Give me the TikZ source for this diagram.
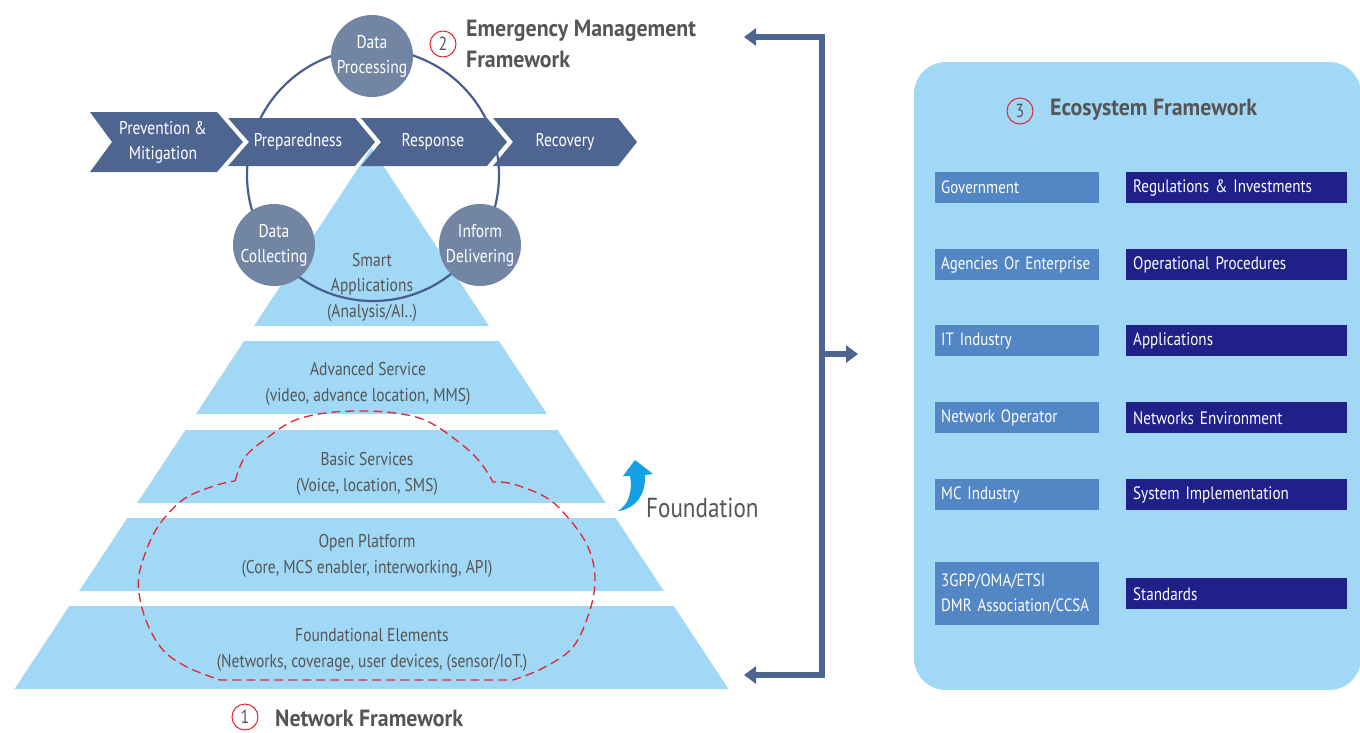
\documentclass[tikz,border=0pt]{standalone}
\usepackage{fontspec}
\setmainfont{PT Sans}[FakeStretch=0.84, BoldFeatures={FakeStretch=0.93}]
\usetikzlibrary{arrows.meta}
\definecolor{pyr}{HTML}{A0D8F5}
\definecolor{chev}{HTML}{4F6591}
\definecolor{circ}{HTML}{7286A4}
\definecolor{ringc}{HTML}{4A5D8E}
\definecolor{txt}{HTML}{555555}
\definecolor{lbx}{HTML}{5286C5}
\definecolor{rbx}{HTML}{1F2088}
\definecolor{redc}{HTML}{E5232E}
\definecolor{found}{HTML}{13A0E4}
\tikzset{
  pyrtext/.style={text=txt, font=\fontsize{18.5}{25.5}\selectfont, align=center, inner sep=0pt},
  chevtext/.style={text=white, font=\fontsize{18.5}{25}\selectfont, align=center, inner sep=0pt},
  chevshape/.style={fill=chev},
  bubble/.style={circle, fill=circ, minimum size=82pt, inner sep=0pt, text=white, align=center, font=\fontsize{18.5}{25}\selectfont},
  num/.style={circle, draw=redc, line width=1pt, minimum size=26pt, inner sep=0pt, text=txt, font=\fontsize{19}{19}\selectfont},
  head/.style={text=txt, font=\bfseries\fontsize{23.5}{31}\selectfont, align=left, anchor=west, inner sep=0pt},
  lbox/.style={fill=lbx, text=white, anchor=north west, minimum height=31pt, text width=152pt, inner xsep=6pt, inner ysep=0pt, align=left, font=\fontsize{17.8}{25}\selectfont, execute at begin node={\hyphenpenalty=10000\relax}},
  rbox/.style={fill=rbx, text=white, anchor=north west, minimum height=31pt, text width=207pt, inner xsep=7pt, inner ysep=0pt, align=left, font=\fontsize{18}{25}\selectfont, execute at begin node={\hyphenpenalty=10000\relax}},
  brk/.style={draw=chev, line width=5.5pt},
  cloudline/.style={draw=redc, line width=1.3pt, dash pattern=on 9pt off 5pt},
}
\begin{document}
\begin{tikzpicture}[x=1pt,y=-1pt]
\useasboundingbox (0,0) rectangle (1360,732);
% pyramid layers
\foreach \a/\b in {148/326,341/414,430/503,518/591,606/689}{
  \fill[pyr] ({371.5-(\a-148)*0.6599},\a) -- ({371.5+(\a-148)*0.6599},\a)
    -- ({371.5+(\b-148)*0.6599},\b) -- ({371.5-(\b-148)*0.6599},\b) -- cycle;
}
% cloud
\draw[cloudline] plot[smooth, tension=0.6] coordinates {(235,481) (245,457) (267,438) (293,421) (325,413) (360,411) (395,413) (427,421) (460,443) (480,462) (493,482)}
 -- plot[smooth, tension=0.6] coordinates {(493,482) (513,484) (547,498) (570,520) (588,547) (595,577) (590,610) (573,647) (543,668) (513,680)}
 -- (220,680)
 -- plot[smooth, tension=0.6] coordinates {(220,680) (187,667) (163,650) (147,623) (139,593) (140,570) (152,537) (167,515) (187,497) (217,485) (235,481)} -- cycle;
% ring
\draw[ringc, line width=2.2pt] (373,175) circle[radius=126];
% chevrons
\fill[chevshape] (90,112) -- (217,112) -- (243,142) -- (217,172) -- (90,172) -- (112,142) -- cycle;
\fill[chevshape] (228,118) -- (355,118) -- (375,142) -- (355,166) -- (228,166) -- (249,142) -- cycle;
\fill[chevshape] (361,118) -- (487,118) -- (507,142) -- (487,166) -- (361,166) -- (381,142) -- cycle;
\fill[chevshape] (493,118) -- (618,118) -- (637,142) -- (618,166) -- (493,166) -- (513,142) -- cycle;
\node[chevtext] (prev) at (163,142) {Prevention \&\\Mitigation};
\node[chevtext] (prep) at (298,142) {Preparedness};
\node[chevtext] (resp) at (433,142) {Response};
\node[chevtext] (reco) at (565,142) {Recovery};
% bubbles
\node[bubble] (dp) at (372,56) {Data\\Processing};
\node[bubble] (dc) at (274,245) {Data\\Collecting};
\node[bubble] (id) at (480,245) {Inform\\Delivering};
% pyramid texts
\node[pyrtext] (smart) at (372,287) {Smart\\Applications\\(Analysis/AI..)};
\node[pyrtext] (adv) at (368,384) {Advanced Service\\(video, advance location, MMS)};
\node[pyrtext] (basic) at (367,474) {Basic Services\\(Voice, location, SMS)};
\node[pyrtext] (open) at (367,556) {Open Platform\\(Core, MCS enabler, interworking, API)};
\node[pyrtext] (fe) at (372,650) {Foundational Elements\\(Networks, coverage, user devices, (sensor/IoT.)};
% foundation arrow
\fill[found] (618,511) .. controls (628,505) and (633,492) .. (630,476) -- (623,476) -- (635,460) -- (653,474) -- (645,475) .. controls (646,495) and (635,509) .. (618,511) -- cycle;
\node[text=txt, font=\fontsize{27.5}{30}\selectfont, anchor=west, inner sep=0pt] (fnd) at (646,508) {Foundation};
% headings
\node[num] (n2) at (443,44) {2};
\node[head] (emh) at (466,44) {Emergency Management\\Framework};
\node[num] (n1) at (245,717) {1};
\node[head] (nfh) at (275,718) {Network Framework};
% bracket
\coordinate (tl) at (744,37);
\coordinate (bt) at (822,37);
\coordinate (bb) at (822,675);
\coordinate (bl) at (744,675);
\coordinate (bm) at (822,354);
\coordinate (mr) at (858,354);
\draw[brk, {Triangle[length=12pt,width=17pt]}-{Triangle[length=12pt,width=17pt]}] (tl) -- (bt) -- (bb) -- (bl);
\draw[brk, -{Triangle[length=12pt,width=17pt]}] (bm) -- (mr);
% ecosystem panel
\fill[pyr, rounded corners=32pt] (914,62) rectangle (1361,690);
\node[num] (n3) at (1020,111) {3};
\node[head] (ech) at (1050,110) {Ecosystem Framework};
\node[lbox] (gov) at (935,172) {Government};
\node[lbox] (age) at (935,249) {Agencies Or Enterprise};
\node[lbox] (iti) at (935,325) {IT Industry};
\node[lbox] (nop) at (935,402) {Network Operator};
\node[lbox] (mci) at (935,479) {MC Industry};
\node[lbox, minimum height=63pt] (std1) at (935,562) {3GPP/OMA/ETSI\\DMR Association/CCSA};
\node[rbox] (reg) at (1126,172) {Regulations \& Investments};
\node[rbox] (ops) at (1126,249) {Operational Procedures};
\node[rbox] (app) at (1126,325) {Applications};
\node[rbox] (nen) at (1126,402) {Networks Environment};
\node[rbox] (sim) at (1126,479) {System Implementation};
\node[rbox] (std2) at (1126,578) {Standards};
\end{tikzpicture}
\end{document}
